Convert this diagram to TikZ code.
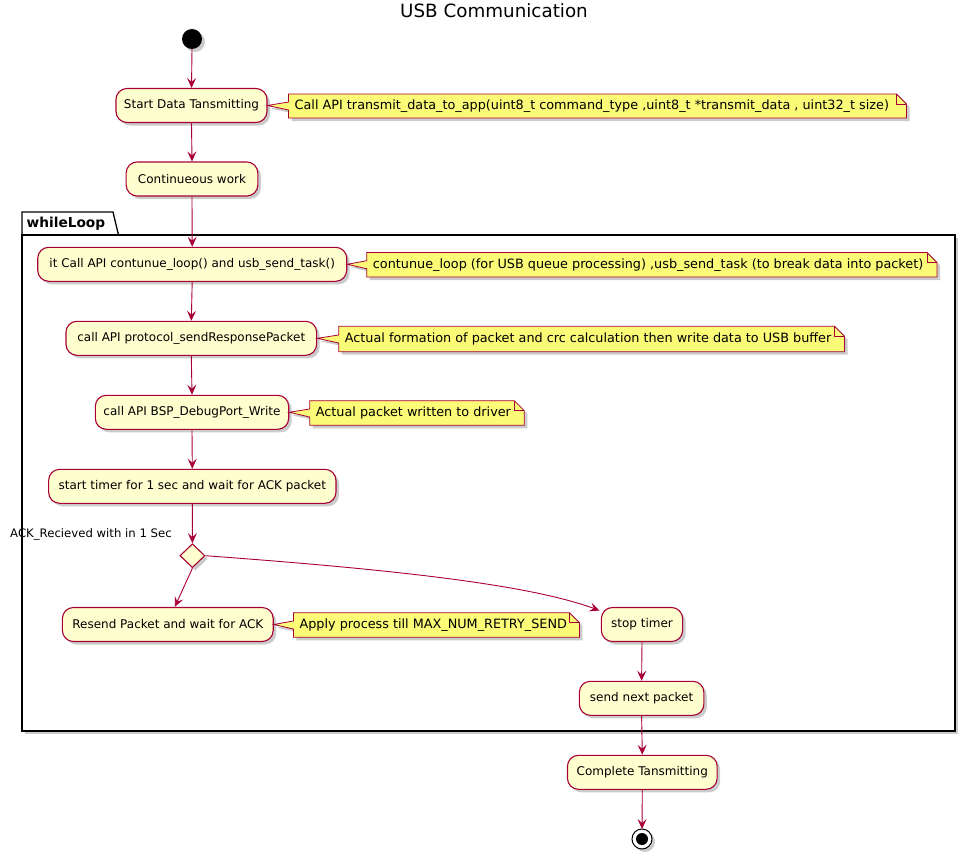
\documentclass[tikz,border=0pt]{standalone}
\usepackage{fontspec}
\setmainfont{DejaVu Sans}
\usetikzlibrary{shapes.geometric,shadows,arrows.meta,calc}
\definecolor{ured}{HTML}{A80036}
\definecolor{uact}{HTML}{FEFECE}
\definecolor{unote}{HTML}{FBFB77}
\tikzset{
  shad/.style={drop shadow={shadow xshift=3pt, shadow yshift=-3pt, fill=black!45, opacity=0.45}},
  act/.style={rectangle, rounded corners=11pt, draw=ured, fill=uact, line width=1.1pt,
    minimum height=34pt, inner sep=0pt, font=\fontsize{12}{14}\selectfont, shad},
  notebox/.style={draw=ured, fill=unote, line width=0.8pt, shad},
  notefold/.style={draw=ured, line width=0.8pt},
  notetext/.style={inner sep=0pt, font=\fontsize{12.8}{15}\selectfont},
  flow/.style={draw=ured, line width=0.9pt, -{Stealth[length=10pt,width=9pt,inset=4pt]}},
  pkg/.style={draw=black, line width=1.3pt},
  dec/.style={diamond, draw=ured, fill=uact, line width=1.1pt, minimum width=25pt, minimum height=24pt, inner sep=0pt, shad},
}
\newcommand{\mkNote}[7]{%
  \draw[notebox] (#2,#3) -- (#4-10,#3) -- (#4,#3+10) -- (#4,#5) -- (#2,#5)
     -- (#2,{(#3+#5)/2+4}) -- (#6.east) -- (#2,{(#3+#5)/2-4}) -- cycle;
  \draw[notefold] (#4-10,#3) -- (#4-10,#3+10) -- (#4,#3+10);
  \node[notetext, anchor=west] (#1) at (#2+6,{(#3+#5)/2}) {#7};
}
\begin{document}
\begin{tikzpicture}[x=1pt,y=-1pt]
\useasboundingbox (0,0) rectangle (975,859);
% title
\node[font=\fontsize{18.3}{21}\selectfont] (title) at (494,11) {USB Communication};
% package
\draw[pkg, fill=white, shad] (22,235) rectangle (955,731);
\draw[pkg] (22,235) -- (22,212) -- (113,212) -- (118.5,235);
\node[anchor=west, inner sep=0pt, font=\fontsize{13.7}{16}\selectfont\bfseries] (pkglabel) at (26.5,223.5) {whileLoop};
% start
\fill[black, shad] (192,39) circle (10);
\coordinate (startc) at (192,49);
% activities
\node[act, minimum width=151pt] (start) at (191.5,105.5) {Start Data Tansmitting};
\node[act, minimum width=131.7pt] (cont) at (192,179) {Continueous work};
\node[act, minimum width=309pt] (itcall) at (192.2,264.3) {it Call API contunue\_loop() and usb\_send\_task()};
\node[act, minimum width=250.7pt] (proto) at (191.3,338.3) {call API protocol\_sendResponsePacket};
\node[act, minimum width=193.4pt] (bsp) at (192,412.3) {call API BSP\_DebugPort\_Write};
\node[act, minimum width=287.3pt] (timer) at (192.3,486.3) {start timer for 1 sec and wait for ACK packet};
\node[dec] (dia) at (192.4,555.7) {};
\node[anchor=east, inner sep=0pt, font=\fontsize{11.7}{13}\selectfont] (acklbl) at (172,534) {ACK\_Recieved with in 1 Sec};
\node[act, minimum width=210.8pt] (resend) at (167.8,624.5) {Resend Packet and wait for ACK};
\node[act, minimum width=81.2pt] (stop) at (642,624.5) {stop timer};
\node[act, minimum width=124.5pt] (next) at (641.6,698.3) {send next packet};
\node[act, minimum width=149.7pt] (complete) at (642.3,772.3) {Complete Tansmitting};
% end
\draw[black, line width=1pt, fill=white, shad] (642,839) circle (10);
\fill[black] (642,839) circle (6);
\coordinate (endc) at (642,829);
% notes
\mkNote{n1}{288.5}{94}{906.5}{118}{start}{Call API transmit\_data\_to\_app(uint8\_t command\_type ,uint8\_t *transmit\_data , uint32\_t size)}
\mkNote{n2}{366.7}{252.5}{937}{277}{itcall}{contunue\_loop (for USB queue processing) ,usb\_send\_task (to break data into packet)}
\mkNote{n3}{338.7}{326.3}{844.5}{351.7}{proto}{Actual formation of packet and crc calculation then write data to USB buffer}
\mkNote{n4}{309.7}{400.7}{524.3}{425.3}{bsp}{Actual packet written to driver}
\mkNote{n5}{293.4}{612.7}{579.4}{637.3}{resend}{Apply process till MAX\_NUM\_RETRY\_SEND}
% flows
\draw[flow] (startc) -- (start.north);
\draw[flow] (start.south) -- (cont.north);
\draw[flow] (cont.south) -- (itcall.north);
\draw[flow] (itcall.south) -- (proto.north);
\draw[flow] (proto.south) -- (bsp.north);
\draw[flow] (bsp.south) -- (timer.north);
\draw[flow] (timer.south) -- (dia.north);
\draw[flow] (dia.south) -- ([xshift=7pt]resend.north);
\coordinate (stopin) at (599.5,610.5);
\draw[flow] (dia.east) .. controls (400,570) and (530,585) .. (stopin);
\draw[flow] (stop.south) -- (next.north);
\draw[flow] (next.south) -- (complete.north);
\draw[flow] (complete.south) -- (endc);
\end{tikzpicture}
\end{document}
